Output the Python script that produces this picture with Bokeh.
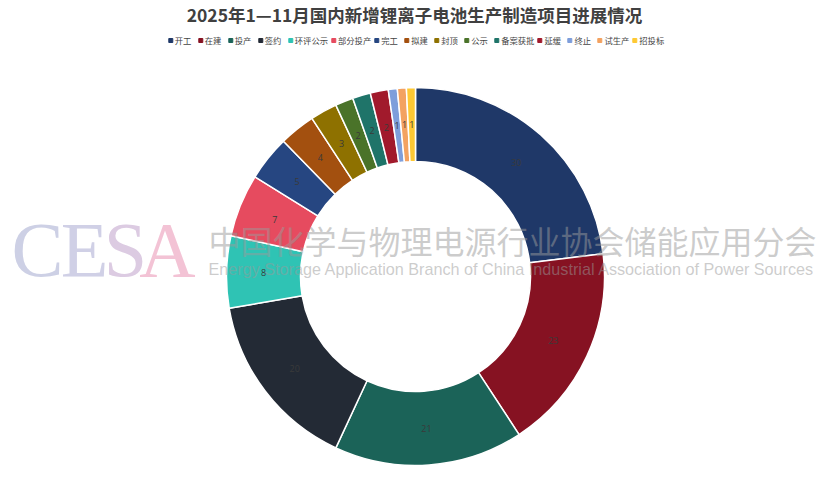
import math
from bokeh.plotting import figure
from bokeh.models import Range1d, Legend, LegendItem, ColumnDataSource
from bokeh.core.properties import value
from bokeh.embed import file_html
from bokeh.resources import INLINE

# ---- data ----
title_text = "2025年1—11月国内新增锂离子电池生产制造项目进展情况"
categories = ["开工", "在建", "投产", "签约", "环评公示", "部分投产", "完工", "拟建",
              "封顶", "公示", "备案获批", "延缓", "终止", "试生产", "招投标"]
counts = [30, 23, 21, 20, 8, 7, 5, 4, 3, 2, 2, 2, 1, 1, 1]
colors = ["#1f3868", "#861222", "#1b6358", "#232a35", "#2fc3b4", "#e64b5f", "#264681",
          "#a3500f", "#8e7100", "#4a7329", "#1f7469", "#a11a2c", "#7e9edb", "#f3a261",
          "#fec934"]

W, H = 829, 492
cx, cy = 415, H - 276
r_in, r_out = 115, 189

total = sum(counts)
starts, ends, lx, ly = [], [], [], []
cum = 0
for c in counts:
    a0 = math.pi / 2 - 2 * math.pi * cum / total
    cum += c
    a1 = math.pi / 2 - 2 * math.pi * cum / total
    starts.append(a0)
    ends.append(a1)
    mid = (a0 + a1) / 2
    rm = (r_in + r_out) / 2
    lx.append(cx + rm * math.cos(mid))
    ly.append(cy + rm * math.sin(mid))

src = ColumnDataSource(dict(cat=categories, val=counts, color=colors,
                            start=starts, end=ends, lx=lx, ly=ly,
                            lab=[str(v) for v in counts],
                            x=[cx] * len(counts), y=[cy] * len(counts)))

p = figure(width=W, height=H, output_backend="svg", toolbar_location=None,
           x_range=Range1d(0, W), y_range=Range1d(0, H), min_border=0)
p.axis.visible = False
p.xgrid.visible = False
p.ygrid.visible = False
p.outline_line_color = None

p.annular_wedge(x="x", y="y", inner_radius=r_in, outer_radius=r_out,
                start_angle="start", end_angle="end", direction="clock",
                fill_color="color", line_color="white", line_width=1.5, source=src)

p.text(x="lx", y="ly", text="lab", source=src, text_align="center",
       text_baseline="middle", text_font_size="9px", text_color="#3a3a3a",
       text_font=value("Open Sans"))

# ---- watermark ----
cesa_letters = ["C", "E", "S", "A"]
cesa_x = [37, 84, 125, 167]
cesa_colors = ["#cdd0e5", "#d0d0e6", "#dccbe2", "#f3c3d5"]
p.text(x=cesa_x, y=[H - 249] * 4, text=cesa_letters, text_color=cesa_colors,
       text_font=value("Liberation Serif"), text_font_size="78px",
       text_align="center", text_baseline="middle")
p.text(x=[208], y=[H - 239], text=["中国化学与物理电源行业协会储能应用分会"],
       text_font=value("Noto Sans CJK SC"), text_font_size="32px",
       text_color="#9a9a9a", text_alpha=0.5, text_align="left", text_baseline="middle")
p.text(x=[208], y=[H - 268],
       text=["Energy Storage Application Branch of China Industrial Association of Power Sources"],
       text_font=value("Liberation Sans"), text_font_size="16.2px",
       text_color="#9a9a9a", text_alpha=0.5, text_align="left", text_baseline="middle")

# ---- title ----
p.text(x=[414], y=[H - 14], text=[title_text], text_font=value("Noto Sans CJK SC"),
       text_font_size="17.5px", text_font_style="bold", text_color="#404040",
       text_align="center", text_baseline="middle")

# ---- legend ----
items = []
for cat, col in zip(categories, colors):
    r = p.scatter(x=[-100], y=[-100], marker="square", size=5, fill_color=col, line_color=col)
    items.append(LegendItem(label=cat, renderers=[r]))
legend = Legend(items=items, orientation="horizontal", location="top_center",
                margin=34, padding=0, spacing=0, label_standoff=0,
                glyph_width=10, glyph_height=12, label_height=12,
                label_text_font="Noto Sans CJK SC", label_text_font_size="8.3px",
                label_text_color="#444444", border_line_color=None,
                background_fill_alpha=0)
p.add_layout(legend, "center")

open("out.html", "w").write(file_html(p, INLINE))
